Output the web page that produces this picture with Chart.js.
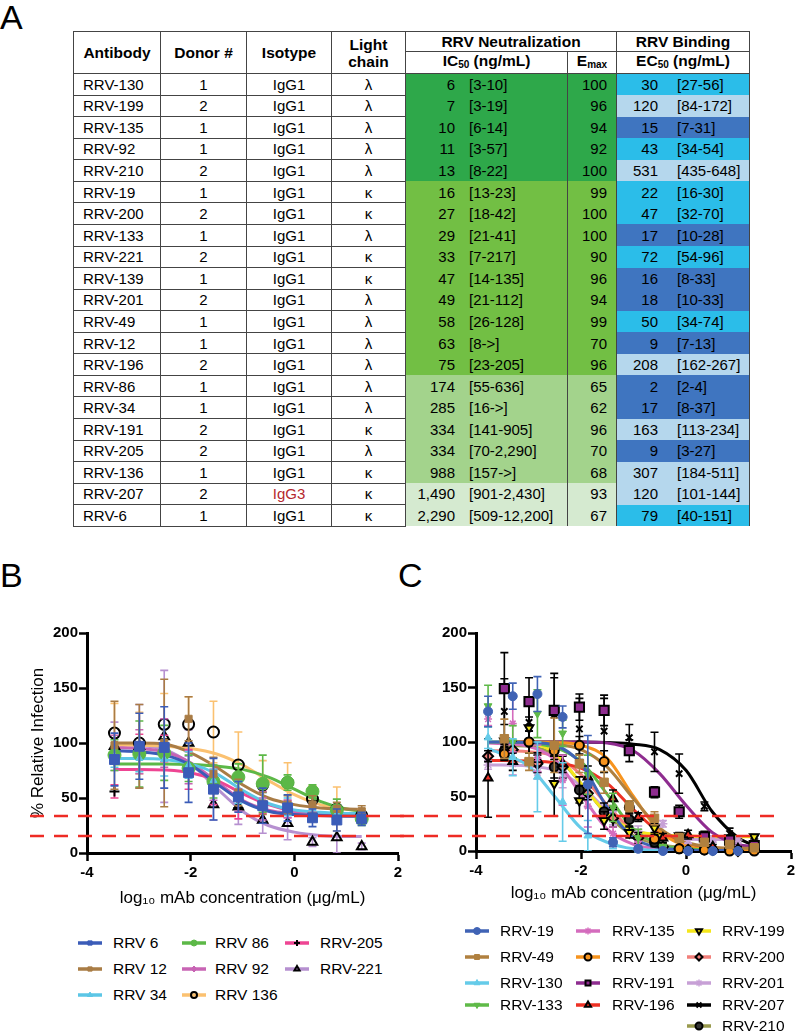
<!DOCTYPE html>
<html>
<head>
<meta charset="utf-8">
<script src="https://cdn.jsdelivr.net/npm/chart.js"></script>
<style>
body{margin:0;width:796px;height:1032px;overflow:hidden;background:#fff;position:relative;font-family:"Liberation Sans",Arial,sans-serif;color:#000}
.panel{position:absolute;font-size:34px;line-height:34px}
#tbl{position:absolute;left:73px;top:31px;border-collapse:collapse;table-layout:fixed;font-size:15px}
#tbl th,#tbl td{border:1px solid #444;padding:0;white-space:nowrap;overflow:hidden}
#tbl th{font-weight:bold;font-size:15.5px;text-align:center;height:19px;line-height:17px}
#tbl td{height:20.57px;text-align:center}
#tbl td.ab{text-align:left;padding-left:9px}
#tbl td.col{border-top:none;border-bottom:none}
#tbl td.em{text-align:right;padding-right:9px}
#tbl td.ic,#tbl td.ec{text-align:left}
#tbl sub{font-size:10px;vertical-align:-2px}
.nIC{display:inline-block;width:49px;text-align:right}
.cIC{margin-left:14px}
.nEC{display:inline-block;width:41px;text-align:right}
.cEC{margin-left:19px}
.lg{position:absolute;font-size:15.5px;line-height:18px;white-space:nowrap}
canvas.chart{position:absolute}
</style>
</head>
<body>
<div class="panel" style="left:0;top:0">A</div>
<div class="panel" style="left:0;top:558px">B</div>
<div class="panel" style="left:398px;top:558px">C</div>
<table id="tbl"></table>
<canvas id="chartB" class="chart" width="410" height="300" style="left:0;top:620px"></canvas>
<canvas id="chartC" class="chart" width="400" height="300" style="left:400px;top:620px"></canvas>
<script>
// ---- table A ----
const antibodies=['RRV-130','RRV-199','RRV-135','RRV-92','RRV-210','RRV-19','RRV-200','RRV-133','RRV-221','RRV-139','RRV-201','RRV-49','RRV-12','RRV-196','RRV-86','RRV-34','RRV-191','RRV-205','RRV-136','RRV-207','RRV-6']
const donors=[1,2,1,1,2,1,2,1,2,1,2,1,1,2,1,1,2,2,1,2,1]
const isotypes=['IgG1','IgG1','IgG1','IgG1','IgG1','IgG1','IgG1','IgG1','IgG1','IgG1','IgG1','IgG1','IgG1','IgG1','IgG1','IgG1','IgG1','IgG1','IgG1','IgG3','IgG1']
const lightChains=['λ','λ','λ','λ','λ','κ','κ','λ','κ','κ','λ','λ','λ','λ','λ','λ','κ','λ','κ','κ','κ']
const ic50=[6,7,10,11,13,16,27,29,33,47,49,58,63,75,174,285,334,334,988,1490,2290]
const ic50CI=['[3-10]','[3-19]','[6-14]','[3-57]','[8-22]','[13-23]','[18-42]','[21-41]','[7-217]','[14-135]','[21-112]','[26-128]','[8->]','[23-205]','[55-636]','[16->]','[141-905]','[70-2,290]','[157->]','[901-2,430]','[509-12,200]']
const emax=[100,96,94,92,100,99,100,100,90,96,94,99,70,96,65,62,96,70,68,93,67]
const ec50=[30,120,15,43,531,22,47,17,72,16,18,50,9,208,2,17,163,9,307,120,79]
const ec50CI=['[27-56]','[84-172]','[7-31]','[34-54]','[435-648]','[16-30]','[32-70]','[10-28]','[54-96]','[8-33]','[10-33]','[34-74]','[7-13]','[162-267]','[2-4]','[8-37]','[113-234]','[3-27]','[184-511]','[101-144]','[40-151]']

function icColor(v){return v<15?'#2ea84a':v<100?'#72bf44':v<1000?'#a3d38c':'#d5ead0'}
function ecColor(v){return v<20?'#3f75c0':v<100?'#2bbde9':'#b5d7ed'}

let html='<colgroup><col style="width:87px"><col style="width:86px"><col style="width:85px"><col style="width:74px"><col style="width:162px"><col style="width:49px"><col style="width:133px"></colgroup>'
html+='<tr><th rowspan="2">Antibody</th><th rowspan="2">Donor #</th><th rowspan="2">Isotype</th><th rowspan="2">Light<br>chain</th><th colspan="2">RRV Neutralization</th><th>RRV Binding</th></tr>'
html+='<tr><th>IC<sub>50</sub> (ng/mL)</th><th>E<sub>max</sub></th><th>EC<sub>50</sub> (ng/mL)</th></tr>'
antibodies.forEach((a,i)=>{
  const g=icColor(ic50[i]), b=ecColor(ec50[i])
  const iso=isotypes[i]==='IgG3'?'<span style="color:#b5282e">IgG3</span>':isotypes[i]
  html+='<tr><td class="ab">'+a+'</td><td>'+donors[i]+'</td><td>'+iso+'</td><td>'+lightChains[i]+'</td>'
  html+='<td class="col ic" style="background:'+g+'"><span class="nIC">'+ic50[i].toLocaleString('en-US')+'</span><span class="cIC">'+ic50CI[i]+'</span></td>'
  html+='<td class="col em" style="background:'+g+'">'+emax[i]+'</td>'
  html+='<td class="col ec" style="background:'+b+'"><span class="nEC">'+ec50[i]+'</span><span class="cEC">'+ec50CI[i]+'</span></td></tr>'
})
document.getElementById('tbl').innerHTML=html

// ---- panel B data ----
const bDose=[-3.47,-2.99,-2.51,-2.04,-1.56,-1.08,-0.61,-0.13,0.35,0.82,1.30]
const bFitDose=[-3.47,-3.0,-2.5,-2.0,-1.5,-1.0,-0.5,0.0,0.5,1.0,1.30]
const bNames=['RRV 6','RRV 12','RRV 34','RRV 86','RRV 92','RRV 136','RRV-205','RRV-221']
const bMean=[
[85,97,96,73,58,51,43,41,32,30,31],
[98,97,100,122,72,55,45,44,44,40,38],
[88,86,85,80,66,55,47,42,40,36,33],
[89,90,91,77,65,69,63,64,56,39,31],
[95,92,100,78,60,48,40,40,38,35,33],
[109,100,117,117,110,80,62,64,49,40,34],
[56,98,95,76,60,41,46,40,47,33,33],
[97,97,106,100,44,42,30,27,10,14,6]]
const bSD=[
[24,30,37,27,28,14,16,12,8,10,6],
[40,38,58,20,15,12,10,8,8,6,5],
[10,12,15,12,10,10,8,8,6,6,5],
[14,30,25,12,15,12,26,7,6,10,6],
[12,20,22,15,12,10,10,8,6,6,4],
[27,28,28,25,28,30,22,18,12,20,6],
[6,10,12,18,16,10,10,8,10,5,5],
[22,38,60,12,14,16,12,15,4,14,3]]
const bFit=[
[93,92,89,80,63,47,38,35,34,33.5,33.5],
[100,100,99,91,78,62,50,44,41,40,39.5],
[86,86,85,81,72,57,45,39,37,36,36],
[81,81,81,80.5,79,76,69,58,47,40,38],
[96,95,92,82,65,48,39,36,35,35,35],
[98,98,97,95,90,80,66,53,44,40,39],
[76,76,75.5,73,66,54,44,38,36,35,35],
[99,98,94,81,59,38,25,19,16,15,15]]
const bCutoffs=[33.6,15.5]

// ---- panel C data ----
const cDoseA=[-3.77,-3.30,-2.83,-2.35,-1.87,-1.39,-0.91,-0.44,0.04,0.51,0.99]
const cDoseB=[-3.46,-2.99,-2.51,-2.03,-1.56,-1.08,-0.60,-0.13,0.35,0.83,1.30]
const cFitDoseA=[-3.77,-3.5,-3.0,-2.5,-2.0,-1.5,-1.0,-0.5,0.0,0.5,0.99]
const cFitDoseB=[-3.46,-3.0,-2.5,-2.0,-1.5,-1.0,-0.5,0.0,0.5,1.0,1.30]
const cNames=['RRV-19','RRV-49','RRV-130','RRV-133','RRV-135','RRV 139','RRV-191','RRV-196','RRV-199','RRV-200','RRV-201','RRV-207','RRV-210']
const cSeries=['A','B','A','A','A','B','B','A','B','A','A','B','B']
const cMean=[
[128,142,144,123,61,8,2,0,0,0,0],
[103,82,97,80,63,41,30,12,8,6,3],
[104,86,68,45,14,6,1,0,0,0,0],
[133,100,126,108,70,40,12,3,1,0,0],
[121,117,85,65,41,16,6,2,0,0,0],
[89,100,92,97,82,40,11,2,1,0,0],
[149,137,129,132,129,92,54,36,13,10,5],
[67,82,84,80,68,48,31,12,15,4,2],
[101,113,62,46,28,17,21,14,13,12,13],
[87,93,80,77,53,30,12,4,1,1,0],
[79,80,72,66,50,30,18,25,10,11,10],
[128,118,125,112,110,104,91,71,41,16,5],
[92,100,77,56,36,29,8,2,1,1,1]]
const cSD=[
[14,12,16,10,45,4,2,1,1,1,1],
[18,8,25,8,10,5,6,4,3,3,2],
[10,17,32,36,14,4,2,1,1,1,1],
[19,15,22,12,18,13,8,3,1,1,1],
[6,26,12,23,19,6,3,2,1,1,1],
[6,10,8,8,10,6,4,2,1,1,1],
[33,22,30,12,14,10,5,6,5,4,3],
[36,8,6,8,10,8,4,4,4,2,2],
[5,10,30,14,8,5,4,3,2,2,2],
[5,8,8,10,6,8,5,3,1,1,1],
[4,10,6,8,10,6,5,3,3,3,3],
[30,16,38,28,30,12,18,18,4,5,3],
[8,10,10,12,8,6,4,2,1,1,1]]
const cFit=[
[100,100,99.5,97,80,40,12,3,1,0.5,0.5],
[100,99.5,98,93,77,48,21,8,3.5,2.5,2.5],
[94,89,78,50,21,8,2,0.5,0,0,0],
[100,100,99,95,82,52,20,6,2,1,1],
[99,98.5,96,84,52,20,6,2,0.5,0,0],
[100,100,99.5,97,85,50,18,5,1.5,0.5,0.5],
[100,100,100,100,99,92,71,42,17,6,4],
[83,83,82.5,81,76,62,38,17,7,3,2],
[100,99,90,62,34,19,15,14,13,13,13],
[92,92,91,87,70,42,18,6,2,1,1],
[79,79,78,74,60,37,20,13,11,10.5,10.5],
[100,100,100,100,99.5,98,93,74,36,12,5],
[97,96,88,62,33,14,6,3,2,2,2]]
const cCutoffs=[32,13.8]

// ---- styles ----
const bStyle=[
{line:'#3b5cb8',shape:'rect',r:7,fill:'#3b5cb8',edge:'#3b5cb8',bw:1,bar:'#3b5cb8'},
{line:'#a97c45',shape:'rect',r:5,fill:'#a97c45',edge:'#a97c45',bw:1,bar:'#a97c45'},
{line:'#5cc6e6',shape:'triangle',r:4,fill:'#5cc6e6',edge:'#5cc6e6',bw:1,bar:'#5cc6e6'},
{line:'#5cb847',shape:'circle',r:6.5,fill:'#5cb847',edge:'#5cb847',bw:1,bar:'#5cb847'},
{line:'#c864b4',shape:'rectRot',r:3,fill:'#c864b4',edge:'#c864b4',bw:1,bar:'#c864b4'},
{line:'#fbc170',shape:'circle',r:5.5,fill:'rgba(255,255,255,0)',edge:'#000',bw:2,bar:'#fbc170'},
{line:'#ee4593',shape:'cross',r:5,fill:'#000',edge:'#000',bw:2,bar:'#ee4593'},
{line:'#b690d0',shape:'triangle',r:5.5,fill:'rgba(255,255,255,0)',edge:'#000',bw:2,bar:'#b690d0'}]
const cStyle=[
{line:'#4063b5',shape:'circle',r:4.5,fill:'#4063b5',edge:'#4063b5',bw:1,bar:'#4063b5'},
{line:'#b0803f',shape:'rect',r:6,fill:'#b0803f',edge:'#b0803f',bw:1,bar:'#b0803f'},
{line:'#65cbe9',shape:'triangle',r:4.5,fill:'#65cbe9',edge:'#65cbe9',bw:1,bar:'#65cbe9'},
{line:'#5fba48',shape:'triangle',rot:180,r:4.5,fill:'#5fba48',edge:'#5fba48',bw:1,bar:'#5fba48'},
{line:'#d46cbd',shape:'star',r:4,fill:'#d46cbd',edge:'#d46cbd',bw:1.5,bar:'#d46cbd'},
{line:'#f7941e',shape:'circle',r:4.5,fill:'#f7941e',edge:'#000',bw:2,bar:'#000'},
{line:'#8e2c8f',shape:'rect',r:6.5,fill:'#8e2c8f',edge:'#000',bw:2,bar:'#000'},
{line:'#ee3124',shape:'triangle',r:5,fill:'#ee3124',edge:'#000',bw:2,bar:'#000'},
{line:'#f4e61b',shape:'triangle',rot:180,r:5,fill:'#f4e61b',edge:'#000',bw:2,bar:'#000'},
{line:'#f27f7a',shape:'rectRot',r:5,fill:'#f27f7a',edge:'#000',bw:2,bar:'#000'},
{line:'#c7a0d6',shape:'star',r:4.5,fill:'#c7a0d6',edge:'#c7a0d6',bw:1.5,bar:'#c7a0d6'},
{line:'#000',shape:'crossRot',r:4.5,fill:'#000',edge:'#000',bw:2,bar:'#000'},
{line:'#999a4d',shape:'circle',r:4.5,fill:'#333',edge:'#000',bw:2,bar:'#000'}]

Chart.defaults.font.family='"Liberation Sans", Arial, sans-serif'
Chart.defaults.color='#000'

function buildDatasets(names,doses,fitDoses,means,sds,fits,styles){
  const pts=[],fitsets=[]
  names.forEach((n,i)=>{
    const s=styles[i]
    pts.push({label:n,data:doses[i].map((x,j)=>({x:x,y:means[i][j]})),errors:sds[i],errColor:s.bar,
      showLine:false,pointStyle:s.shape,pointRotation:s.rot||0,pointRadius:s.r,
      backgroundColor:s.fill,borderColor:s.edge,borderWidth:s.bw,clip:false})
    fitsets.push({label:n+' fit',data:fitDoses[i].map((x,j)=>({x:x,y:fits[i][j]})),showLine:true,
      borderColor:s.line,borderWidth:3,pointRadius:0,cubicInterpolationMode:'monotone'})
  })
  return pts.concat(fitsets)
}

const errorBars={id:'errorBars',beforeDatasetDraw(chart,args){
  const ds=chart.data.datasets[args.index]
  if(!ds.errors) return
  const {ctx,chartArea:a,scales:{x,y}}=chart
  ctx.save()
  ctx.beginPath();ctx.rect(a.left,a.top-4,a.right-a.left+6,a.bottom-a.top+4);ctx.clip()
  ctx.strokeStyle=ds.errColor;ctx.lineWidth=1.6
  ds.data.forEach((p,j)=>{
    const e=ds.errors[j]; if(!e) return
    const px=x.getPixelForValue(p.x),y1=y.getPixelForValue(p.y-e),y2=y.getPixelForValue(p.y+e)
    ctx.beginPath()
    ctx.moveTo(px,y1);ctx.lineTo(px,y2)
    ctx.moveTo(px-4,y1);ctx.lineTo(px+4,y1)
    ctx.moveTo(px-4,y2);ctx.lineTo(px+4,y2)
    ctx.stroke()
  })
  ctx.restore()
}}

const cutoffLines={id:'cutoffLines',afterDatasetsDraw(chart,args,opts){
  const {ctx,scales:{y}}=chart
  ctx.save();ctx.strokeStyle='#ee2b24';ctx.lineWidth=2.5;ctx.setLineDash([14,10])
  opts.values.forEach(v=>{
    const py=y.getPixelForValue(v)
    ctx.beginPath();ctx.moveTo(opts.from,py);ctx.lineTo(opts.to,py);ctx.stroke()
  })
  ctx.restore()
}}

function axisOpts(yTitle,yWidth,xHeight,titlePad){
  return {
    x:{type:'linear',min:-4,max:2,
      ticks:{stepSize:2,padding:3,font:{size:15,weight:'bold'}},
      grid:{drawOnChartArea:false,drawTicks:true,tickLength:8,tickColor:'#000',tickWidth:2.5},
      border:{display:true,color:'#000',width:3},
      title:{display:true,text:'log₁₀ mAb concentration (μg/mL)',font:{size:17},padding:{top:4,bottom:titlePad}},
      afterFit(s){s.height=xHeight}},
    y:{type:'linear',min:0,max:200,
      ticks:{stepSize:50,padding:1,font:{size:15,weight:'bold'}},
      grid:{drawOnChartArea:false,drawTicks:true,tickLength:8,tickColor:'#000',tickWidth:2.5},
      border:{display:true,color:'#000',width:3},
      title:{display:!!yTitle,text:yTitle,font:{size:17},padding:{top:4,bottom:4}},
      afterFit(s){s.width=yWidth}}
  }
}

new Chart(document.getElementById('chartB'),{
  type:'scatter',
  data:{datasets:buildDatasets(bNames,bNames.map(()=>bDose),bNames.map(()=>bFitDose),bMean,bSD,bFit,bStyle)},
  options:{responsive:false,animation:false,
    layout:{padding:{left:24,top:13,right:12,bottom:0}},
    plugins:{legend:{display:false},tooltip:{enabled:false},cutoffLines:{values:bCutoffs,from:30,to:410}},
    scales:axisOpts('% Relative Infection',63,67,11)},
  plugins:[errorBars,cutoffLines]
})

new Chart(document.getElementById('chartC'),{
  type:'scatter',
  data:{datasets:buildDatasets(cNames,cSeries.map(s=>s==='A'?cDoseA:cDoseB),cSeries.map(s=>s==='A'?cFitDoseA:cFitDoseB),cMean,cSD,cFit,cStyle)},
  options:{responsive:false,animation:false,
    layout:{padding:{left:11,top:13,right:9,bottom:0}},
    plugins:{legend:{display:false},tooltip:{enabled:false},cutoffLines:{values:cCutoffs,from:0,to:383}},
    scales:axisOpts('',65,69,16)},
  plugins:[errorBars,cutoffLines]
})

// ---- legends ----
function drawLegend(names,styles,colSizes,lineX,textX,rowY,markerR){
  let i=0
  colSizes.forEach((n,c)=>{
    for(let r=0;r<n;r++,i++){
      const s=styles[i]
      const cv=document.createElement('canvas');cv.width=28;cv.height=16
      cv.style.cssText='position:absolute;left:'+(lineX[c]-2)+'px;top:'+(rowY[r]-8)+'px'
      const ctx=cv.getContext('2d')
      ctx.strokeStyle=s.line;ctx.lineWidth=3.5;ctx.beginPath();ctx.moveTo(2,8);ctx.lineTo(26,8);ctx.stroke()
      ctx.fillStyle=s.fill;ctx.strokeStyle=s.edge;ctx.lineWidth=s.bw
      Chart.helpers.drawPoint(ctx,{pointStyle:s.shape,rotation:s.rot||0,radius:markerR,borderWidth:s.bw},14,8)
      document.body.appendChild(cv)
      const t=document.createElement('div');t.className='lg';t.textContent=names[i]
      t.style.left=textX[c]+'px';t.style.top=(rowY[r]-9)+'px'
      document.body.appendChild(t)
    }
  })
}
drawLegend(bNames,bStyle,[3,3,2],[78,182,285],[113,215,320],[943,969,995],3)
drawLegend(cNames,cStyle,[4,4,5],[465,576,687],[500,612,722],[931,957,983,1005,1026],3.5)
</script>
</body>
</html>
